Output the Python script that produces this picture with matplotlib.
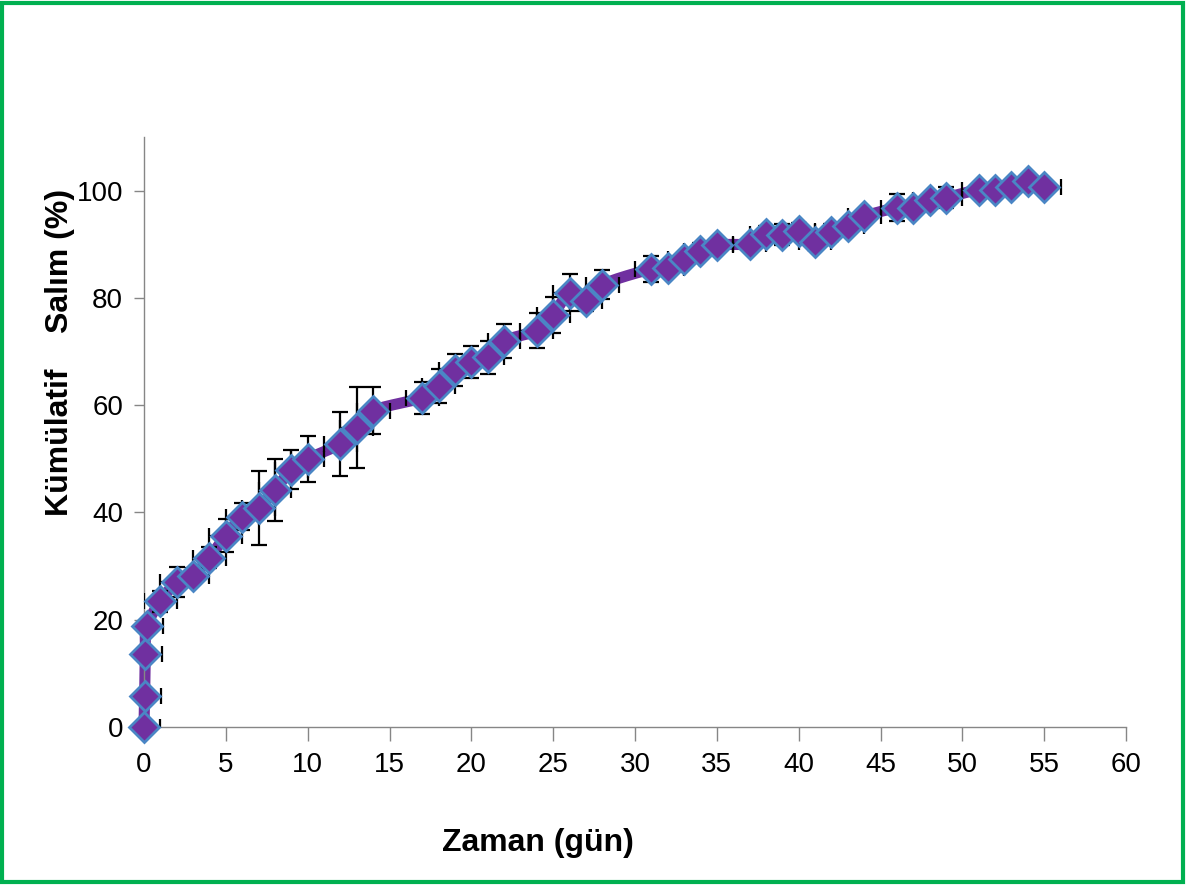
import numpy as np
import matplotlib
matplotlib.use("Agg")
import matplotlib.pyplot as plt
from matplotlib.patches import Rectangle

# Release time (days) and cumulative release (%) with standard deviations
days = [0, 0.04, 0.08, 0.17, 1, 2, 3, 4, 5, 6, 7, 8, 9, 10, 12, 13, 14,
        17, 18, 19, 20, 21, 22, 24, 25, 26, 27, 28, 31, 32, 33, 34, 35,
        37, 38, 39, 40, 41, 42, 43, 44, 46, 47, 48, 49, 51, 52, 53, 54, 55]
release = [0.0, 5.8, 13.6, 18.8, 23.4, 27.0, 28.2, 31.6, 35.7, 39.2, 40.8,
           44.2, 48.0, 50.0, 52.8, 55.8, 59.0, 61.4, 63.6, 66.6, 68.0, 68.9,
           72.0, 73.9, 76.8, 81.0, 79.5, 82.5, 85.4, 85.6, 87.2, 88.8, 89.9,
           90.1, 91.9, 91.8, 92.4, 90.5, 92.2, 93.5, 95.2, 96.8, 96.8, 98.2,
           98.7, 100.2, 100.2, 100.6, 101.8, 100.7]
release_sd = [0.5, 0.5, 0.5, 0.8, 2.0, 2.8, 1.5, 2.0, 3.0, 2.5, 6.9, 5.7,
              3.6, 4.3, 6.0, 7.6, 4.4, 3.0, 3.2, 3.0, 3.0, 3.1, 3.2, 3.2,
              3.3, 3.4, 2.0, 2.7, 2.5, 1.0, 1.0, 1.5, 1.0, 1.0, 1.5, 2.0,
              1.5, 1.5, 1.5, 1.0, 1.0, 2.5, 1.0, 1.0, 2.0, 1.0, 1.0, 1.0,
              1.0, 1.0]
day_sd = 1.0

x_ticks = list(range(0, 61, 5))
y_ticks = list(range(0, 101, 20))
x_label = "Zaman (gün)"
y_label = "Kümülatif    Salım (%)"

line_color = "#7030A0"
edge_color = "#4A86C5"
axis_color = "#868686"
frame_color = "#00B050"
font = ["Liberation Sans Narrow", "Liberation Sans", "DejaVu Sans"]


def smooth_path(x, y, steps=12):
    """Catmull-Rom curve through the points (chart line smoothing)."""
    x = np.asarray(x, float)
    y = np.asarray(y, float)
    px = np.concatenate([[2 * x[0] - x[1]], x, [2 * x[-1] - x[-2]]])
    py = np.concatenate([[2 * y[0] - y[1]], y, [2 * y[-1] - y[-2]]])
    t = np.linspace(0, 1, steps, endpoint=False)
    ox, oy = [], []
    for i in range(1, len(px) - 2):
        for p, o in ((px, ox), (py, oy)):
            p0, p1, p2, p3 = p[i - 1], p[i], p[i + 1], p[i + 2]
            o.extend(0.5 * ((2 * p1) + (-p0 + p2) * t
                            + (2 * p0 - 5 * p1 + 4 * p2 - p3) * t ** 2
                            + (-p0 + 3 * p1 - 3 * p2 + p3) * t ** 3))
    ox.append(x[-1])
    oy.append(y[-1])
    return np.array(ox), np.array(oy)


fig = plt.figure(figsize=(11.87, 8.85), dpi=100)
fig.patch.set_facecolor("white")
ax = fig.add_axes([144 / 1187, 1 - 727 / 885, (1126 - 144) / 1187, (727 - 137) / 885])

sx, sy = smooth_path(days, release)
ax.plot(sx, sy, color=line_color, lw=8, solid_capstyle="round", zorder=2, clip_on=False)
ax.errorbar(days, release, yerr=release_sd, xerr=day_sd, fmt="none",
            ecolor="black", elinewidth=1.6, capsize=5.5, capthick=1.6, zorder=3, clip_on=True)
ax.plot(days, release, linestyle="none", marker="D", markersize=15,
        markerfacecolor=line_color, markeredgecolor=edge_color, markeredgewidth=2.0,
        zorder=4, clip_on=False)

ax.set_xlim(0, 60)
ax.set_ylim(0, 110)
ax.set_xticks(x_ticks)
ax.set_yticks(y_ticks)
for s in ("top", "right"):
    ax.spines[s].set_visible(False)
for s in ("left", "bottom"):
    ax.spines[s].set_color(axis_color)
    ax.spines[s].set_linewidth(1.0)
ax.tick_params(axis="x", direction="out", length=10, width=1, color=axis_color, pad=8)
ax.tick_params(axis="y", direction="out", length=7, width=1, color=axis_color, pad=8)
for lab in ax.get_xticklabels() + ax.get_yticklabels():
    lab.set_fontfamily(font)
    lab.set_fontsize(20)
    lab.set_color("black")

fig.text(538 / 1187, 1 - 843 / 885, x_label, ha="center", va="center",
         fontsize=23, fontweight="bold", family=font)
fig.text(60 / 1187, 1 - 352 / 885, y_label, ha="center", va="center", rotation=90,
         fontsize=23, fontweight="bold", family=font)

fig.add_artist(Rectangle((0.002, 0.003), 0.995, 0.994, transform=fig.transFigure,
                         fill=False, edgecolor=frame_color, linewidth=3))

fig.savefig("out.png", dpi=100)
